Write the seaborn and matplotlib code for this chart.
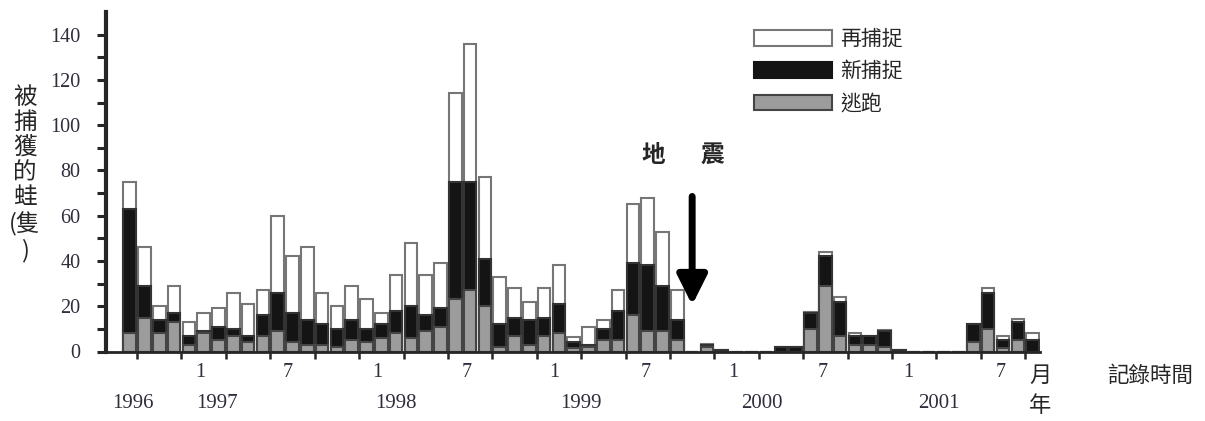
import matplotlib
matplotlib.use("Agg")
import matplotlib.pyplot as plt
from matplotlib.patches import Patch
import seaborn as sns
import pandas as pd

# monthly bars, index 0 = first month of 1996 record
months = list(range(62))
escape = [8, 15, 8, 13, 3, 8, 5, 7, 4, 7, 9, 4, 3, 3, 2, 5, 4, 6, 8, 6,
          9, 11, 23, 27, 20, 2, 7, 3, 7, 8, 1.5, 2, 5, 5, 16, 9, 9, 5, 0, 2,
          0, 0, 0, 0, 0, 0, 10, 29, 7, 3, 3, 2, 0, 0, 0, 0, 0, 4, 10, 1.5,
          5, 0]
new = [55, 14, 6, 4, 4, 1, 6, 3, 3, 9, 17, 13, 11, 9, 8, 9, 6, 6, 10, 14,
       7, 8, 52, 48, 21, 10, 8, 11, 8, 13, 2.5, 1, 5, 13, 23, 29, 20, 9, 0, 1,
       0.5, 0, 0, 0, 2, 2, 7, 13, 15, 4, 4, 7, 0.6, 0, 0, 0, 0, 8, 16, 3.5,
       8, 5]
recapture = [12, 17, 6, 12, 6, 8, 8, 16, 14, 11, 34, 25, 32, 14, 10, 15, 13, 5, 16, 28,
             18, 20, 39, 61, 36, 21, 13, 8, 13, 17, 2.5, 8, 4, 9, 26, 30, 24, 13, 0, 0.3,
             0, 0, 0, 0, 0, 0, 0.5, 2, 2, 1, 0, 0.3, 0, 0, 0, 0, 0, 0, 2, 2,
             1.5, 3]

month_labels = ["1", "7", "1", "7", "1", "7", "1", "7", "1", "7"]
month_pos = [4.75, 10.7, 16.7, 22.75, 28.7, 34.85, 40.75, 46.8, 52.6, 58.85]
year_labels = ["1996", "1997", "1998", "1999", "2000", "2001"]
year_pos = [0.25, 5.9, 18.0, 30.5, 42.7, 54.7]
series_labels = ["再捕捉", "新捕捉", "逃跑"]
quake_month = 38

df = pd.DataFrame({"month": months, "escape": escape, "new": new, "recapture": recapture})
df["lower"] = df["escape"] + df["new"]
df["total"] = df["lower"] + df["recapture"]

sns.set_style("ticks")
plt.rcParams["font.family"] = ["Liberation Serif", "Noto Sans CJK TC", "DejaVu Sans"]
cjk = ["Noto Sans CJK TC", "DejaVu Sans"]

fig = plt.figure(figsize=(12.05, 4.21), dpi=100)
ax = fig.add_axes([106 / 1205, (421 - 351.5) / 421, (1040 - 106) / 1205, 339.5 / 421])

bar_kw = dict(x="month", order=months, width=0.85, saturation=1, linewidth=1.5, ax=ax)
sns.barplot(data=df, y="total", color="white", edgecolor="#767676", **bar_kw)
sns.barplot(data=df, y="lower", color="#141414", edgecolor="#333333", **bar_kw)
sns.barplot(data=df, y="escape", color="#9c9c9c", edgecolor="#444444", **bar_kw)

ax.set_xlim(-1.6, 61.5)
ax.set_ylim(0, 150)
ax.set_xlabel("")
ax.set_ylabel("")
sns.despine(ax=ax)
ax.spines["left"].set_linewidth(3)
ax.spines["bottom"].set_linewidth(2)

ax.set_yticks(range(0, 141, 20))
ax.set_yticks(range(10, 141, 20), minor=True)
ax.tick_params(axis="y", which="both", length=6.5, width=2.2, pad=12,
               labelsize=14.5, labelcolor="#2e2e3c")
ax.set_xticks([0.5 + 3 * k for k in range(21)])
ax.set_xticklabels([])
ax.tick_params(axis="x", length=5, width=1.8)

tr = ax.get_xaxis_transform()
for p, lab in zip(month_pos, month_labels):
    ax.text(p, -0.063, lab, transform=tr, ha="center", va="center",
            fontsize=14.5, color="#2e2e3c")
for p, lab in zip(year_pos, year_labels):
    ax.text(p, -0.152, lab, transform=tr, ha="center", va="center",
            fontsize=15, color="#2e2e3c")

fig.text(1040 / 1205, 1 - 375 / 421, "月", family=cjk, fontsize=16, ha="center", va="center")
fig.text(1040 / 1205, 1 - 406 / 421, "年", family=cjk, fontsize=16, ha="center", va="center")
fig.text(1150 / 1205, 1 - 376 / 421, "記錄時間", family=cjk, fontsize=15.5, ha="center", va="center")
fig.text(25 / 1205, 1 - 174 / 421, "被\n捕\n獲\n的\n蛙\n(隻\n)", family=cjk, fontsize=17,
         ha="center", va="center", linespacing=1.12)

# earthquake marker
ax.annotate("", xy=(quake_month, 20.5), xytext=(quake_month, 68.5),
            arrowprops=dict(arrowstyle="-|>,head_length=0.9,head_width=0.45",
                            lw=5, color="black", mutation_scale=20, shrinkA=0, shrinkB=0))
ax.text(35.35, 86.8, "地", family=cjk, fontsize=17, fontweight="bold", ha="center", va="center")
ax.text(39.33, 86.8, "震", family=cjk, fontsize=17, fontweight="bold", ha="center", va="center")

handles = [Patch(facecolor="white", edgecolor="#777777", linewidth=1.5),
           Patch(facecolor="#141414", edgecolor="#141414", linewidth=1.5),
           Patch(facecolor="#9c9c9c", edgecolor="#444444", linewidth=1.5)]
leg = ax.legend(handles, series_labels, loc="upper left", frameon=False,
                bbox_to_anchor=(754 / 1205, 1 - 28 / 421), bbox_transform=fig.transFigure,
                prop={"family": cjk, "size": 15}, handlelength=3.75, handleheight=0.77,
                handletextpad=0.4, labelspacing=0.5, borderpad=0, borderaxespad=0)

fig.savefig("out.png", dpi=100)
